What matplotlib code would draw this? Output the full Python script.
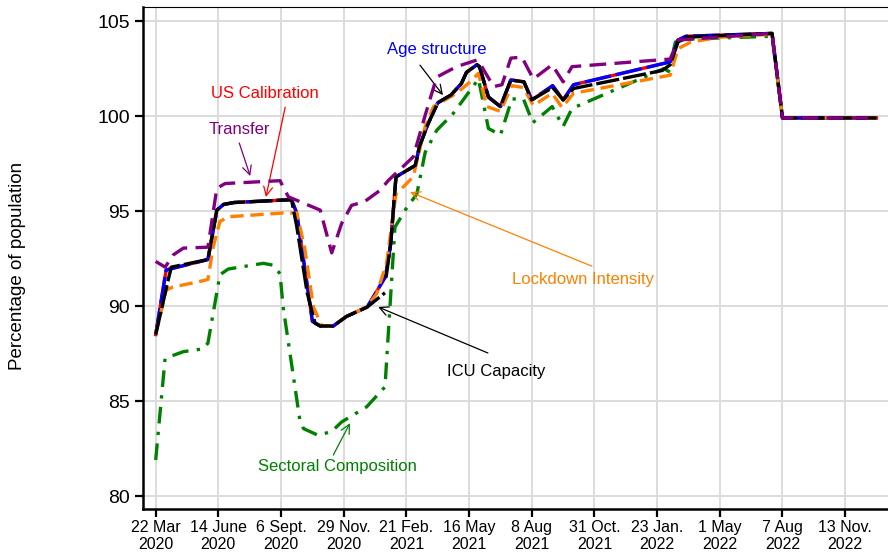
import numpy as np
import matplotlib
matplotlib.use('Agg')
import matplotlib.pyplot as plt

plt.rcParams['font.family'] = ['Liberation Sans', 'DejaVu Sans']

nan = np.nan

# x positions are week indices counted from 22 Mar 2020 (ticks every 12 obs)
tick_pos = [0, 12, 24, 36, 48, 60, 72, 84, 96, 108, 120, 132]
tick_labels = ['22 Mar\n2020', '14 June\n2020', '6 Sept.\n2020', '29 Nov.\n2020',
               '21 Feb.\n2021', '16 May\n2021', '8 Aug\n2021', '31 Oct.\n2021',
               '23 Jan.\n2022', '1 May\n2022', '7 Aug\n2022', '13 Nov.\n2022']

# Age structure (blue) / US Calibration (red, lies under blue)
age_wk = [0, 2, 10, 11.7, 13, 15, 26, 27, 30, 31.5, 34, 36.5, 40.5, 44, 45, 46,
          49.7, 50.5, 52, 54, 56.5, 58.5, 59.5, 61.5, 62, 63.7, 66, 68, 70.5, 72,
          76, 78, 80, 98.5, 100, 101.5, 118, 120, 138]
age_val = [88.5, 91.9, 92.45, 95.05, 95.35, 95.45, 95.6, 94.9, 89.2, 88.95, 88.95,
           89.45, 89.95, 91.55, 93.3, 96.8, 97.4, 98.4, 99.5, 100.7, 101.1, 101.7,
           102.3, 102.7, 102.6, 101.0, 100.5, 101.9, 101.8, 100.85, 101.6, 100.85,
           101.65, 102.85, 104.0, 104.2, 104.35, 99.9, 99.9]
us_wk = age_wk
us_val = age_val

# ICU Capacity (black)
icu_wk = [0, 2.5, 3, 10, 11.7, 13, 15, 26, 27, 29, 30.5, 31.5, 34, 36.5, 40.5, 43.9,
          44, 44.1, 45, 46, 49.7, 50.5, 52, 54, 56.5, 58.5, 59.5, 61.5, 62, 63.7, 66,
          68, 70.5, 72, 76, 78, 80, 97, 98.5, 100, 101.5, 118, 120, 138]
icu_val = [88.5, 91.5, 92.05, 92.45, 95.05, 95.35, 95.45, 95.6, 94.2, 90.7, 89.1,
           88.95, 88.95, 89.45, 89.95, 90.7, nan, 91.5, 93.3, 96.8, 97.4, 98.4, 99.5,
           100.7, 101.1, 101.7, 102.3, 102.7, 102.6, 101.0, 100.5, 101.9, 101.8,
           100.85, 101.5, 100.85, 101.45, 102.4, 102.7, 103.9, 104.15, 104.35, 99.9, 99.9]

# Lockdown Intensity (orange)
lock_wk = [0, 2, 3.3, 8.5, 10, 11, 12.3, 13.9, 24.4, 27, 28.5, 30.2, 31.8, 34, 36.5,
           40.4, 42.3, 44.2, 46, 47.5, 49.3, 51.6, 53.2, 57.6, 60.2, 61.8, 63.4, 66,
           68.2, 70.4, 72.3, 75.9, 77.8, 80, 98.5, 100, 102.5, 108, 118, 120, 138]
lock_val = [88.5, 90.85, 91.0, 91.3, 91.4, 93.1, 94.45, 94.7, 94.9, 94.9, 93.1, 89.95,
            88.95, 88.95, 89.45, 89.95, 90.65, 92.25, 95.9, 96.3, 96.8, 99.45, 100.5,
            101.2, 101.8, 102.25, 100.5, 100.25, 101.6, 101.5, 100.55, 101.2, 100.45,
            101.2, 102.15, 103.55, 103.9, 104.15, 104.3, 99.9, 99.9]

# Transfer (purple)
trans_wk = [0, 1.8, 3.4, 5.3, 10, 11.7, 13.3, 23.8, 25.4, 31.5, 33.7, 35.6, 37.5, 40,
            43, 44.5, 49.3, 51.6, 53.8, 57.6, 61.5, 62, 64.7, 66.3, 68, 70.1, 72.3,
            75.9, 78, 79.7, 98.5, 100, 118, 120, 138]
trans_val = [92.35, 92.05, 92.7, 93.05, 93.1, 96.2, 96.45, 96.6, 95.75, 95.05, 92.8,
             94.35, 95.3, 95.5, 96.1, 96.6, 97.85, 100.05, 102.05, 102.6, 102.95, 102.8,
             101.55, 101.65, 103.05, 103.1, 101.95, 102.7, 101.8, 102.6, 103.0, 104.0,
             104.35, 99.9, 99.9]

# Sectoral Composition (green)
sect_wk = [0, 1.8, 5.3, 9.1, 10, 12.3, 13.9, 20.6, 22.5, 23.8, 24.4, 27.6, 28.3, 31.1,
           33.7, 35.6, 40.4, 43.9, 45.8, 48, 50, 51.6, 53.8, 57, 60.2, 61.8, 63.7, 66,
           68.2, 70.4, 72.2, 75.9, 78, 79.7, 97.3, 98.2, 99.5, 101.7, 118, 120, 138]
sect_val = [81.9, 87.25, 87.6, 87.75, 88.05, 91.65, 91.95, 92.25, 92.15, 91.7, 89.95,
            84.0, 83.55, 83.2, 83.4, 83.9, 84.7, 85.75, 94.15, 95.15, 95.9, 98.1, 99.25,
            100.15, 101.35, 101.95, 99.35, 99.0, 100.9, 100.9, 99.65, 100.5, 99.45,
            100.4, 102.5, 102.35, 103.9, 104.05, 104.2, 99.9, 99.9]

fig = plt.figure(figsize=(8.88, 5.58), dpi=100)
ax = fig.add_axes([143 / 888, 1 - 509 / 558, 1 - 143 / 888, (509 - 7) / 558])

lw = 2.4
ax.plot(us_wk, us_val, color='#ff0000', lw=lw, zorder=3)
ax.plot(age_wk, age_val, color='#0000ff', lw=lw, dashes=(8, 1.5), zorder=4)
ax.plot(sect_wk, sect_val, color='#008000', lw=lw, dashes=(5, 2.5, 1, 2.5), zorder=3)
ax.plot(lock_wk, lock_val, color='#ff8000', lw=lw, dashes=(4, 2), zorder=5)
ax.plot(icu_wk, icu_val, color='black', lw=lw, dashes=(7, 1.2), zorder=6)
ax.plot(trans_wk, trans_val, color='#800080', lw=lw, dashes=(5, 2.5), zorder=7)

ax.set_xlim(-2.43, 140.2)
ax.set_ylim(79.32, 105.74)
ax.set_xticks(tick_pos)
ax.set_xticklabels(tick_labels, fontsize=11.5, linespacing=1.15)
ax.set_yticks([80, 85, 90, 95, 100, 105])
ax.tick_params(axis='y', labelsize=14, width=1.6, length=6)
ax.tick_params(axis='x', width=1.6, length=6, pad=2)
ax.grid(True, color='#dcdcdc', lw=1.4)
ax.set_axisbelow(True)
ax.spines['left'].set_linewidth(1.8)
ax.spines['bottom'].set_linewidth(1.8)
ax.spines['top'].set_linewidth(0.8)
ax.spines['right'].set_visible(False)

fig.text(18 / 888, 1 - 266 / 558, 'Percentage of population', rotation=90,
         ha='center', va='center', fontsize=13.5)

def note(text, color, xy, xytext, arrow_from, arrow_color=None):
    ax.text(xytext[0], xytext[1], text, color=color, fontsize=12,
            ha='center', va='center')
    ax.annotate('', xy=xy, xytext=arrow_from,
                arrowprops=dict(arrowstyle='->', lw=0.9, mutation_scale=16,
                                color=arrow_color or color, shrinkA=0, shrinkB=0))

note('US Calibration', '#ff0000', (21.1, 95.74), (20.9, 101.2), (24.8, 100.47))
note('Transfer', '#800080', (18.1, 96.84), (16.0, 99.3), (16.0, 98.58))
note('Age structure', '#0000ff', (55.0, 101.1), (53.9, 103.5), (50.6, 102.68), 'black')
note('Lockdown Intensity', '#ff8000', (48.7, 96.0), (81.8, 91.42), (83.5, 92.1))
note('ICU Capacity', 'black', (42.6, 89.95), (65.2, 86.58), (63.6, 87.53))
note('Sectoral Composition', '#008000', (37.2, 83.84), (34.7, 81.58), (34.0, 82.16))

fig.savefig('out.png', dpi=100)
